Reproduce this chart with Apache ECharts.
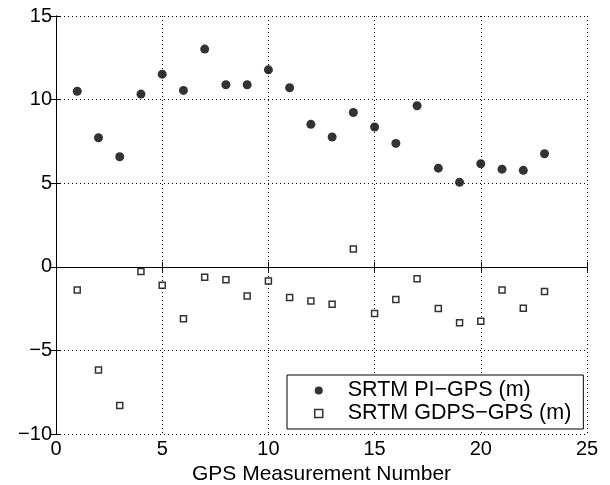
<!DOCTYPE html>
<html><head><meta charset="utf-8">
<script src="https://cdn.jsdelivr.net/npm/echarts@6/dist/echarts.min.js"></script>
<style>html,body{margin:0;padding:0;background:#fff}#c{width:610px;height:485px}</style>
</head><body><div id="c"></div>
<script>
const measurementNumbers = [1,2,3,4,5,6,7,8,9,10,11,12,13,14,15,16,17,18,19,20,21,22,23];
const srtmPiGps = [10.5,7.72,6.58,10.33,11.52,10.55,13.02,10.89,10.89,11.78,10.71,8.52,7.76,9.23,8.36,7.38,9.63,5.9,5.05,6.16,5.84,5.77,6.76];
const srtmGdpsGps = [-1.39,-6.17,-8.29,-0.28,-1.11,-3.10,-0.63,-0.77,-1.75,-0.85,-1.83,-2.04,-2.24,1.07,-2.80,-1.96,-0.71,-2.5,-3.35,-3.25,-1.39,-2.48,-1.47];
const xTicks = [0,5,10,15,20,25];
const yTicks = [-10,-5,0,5,10,15];
const seriesNames = ['SRTM PI\u2212GPS (m)','SRTM GDPS\u2212GPS (m)'];
const xName = 'GPS Measurement Number';

const font = 'Liberation Sans, Arial, Helvetica, sans-serif';
const chart = echarts.init(document.getElementById('c'));
const axisLine = {show:true, lineStyle:{color:'#000', width:1}};
const tick = {show:true, inside:true, length:5, lineStyle:{color:'#000'}};
const split = {show:true, lineStyle:{color:'#000', type:[1,3], width:1}};
const fmt = v => String(v).replace('-', '\u2212');
chart.setOption({
  animation:false,
  backgroundColor:'#fff',
  grid:{left:56, right:23, top:16, bottom:51, containLabel:false, outerBoundsMode:'none'},
  xAxis:[
    {type:'value', min:xTicks[0], max:xTicks[xTicks.length-1], interval:5, position:'bottom',
     name:xName, nameLocation:'middle', nameGap:22, nameTextStyle:{fontFamily:font, fontSize:21, color:'#000'},
     axisLine, axisTick:tick, splitLine:split,
     axisLabel:{fontFamily:font, fontSize:20, color:'#000', margin:5, formatter:fmt}},
    {type:'value', min:xTicks[0], max:xTicks[xTicks.length-1], interval:5, position:'top',
     axisLine, axisTick:tick, splitLine:{show:false}, axisLabel:{show:false}}
  ],
  yAxis:[
    {type:'value', min:yTicks[0], max:yTicks[yTicks.length-1], interval:5, position:'left',
     axisLine, axisTick:tick, splitLine:split,
     axisLabel:{fontFamily:font, fontSize:20, color:'#000', margin:4, formatter:fmt}},
    {type:'value', min:yTicks[0], max:yTicks[yTicks.length-1], interval:5, position:'right',
     axisLine, axisTick:tick, splitLine:{show:false}, axisLabel:{show:false}}
  ],
  legend:{
    left:287, top:375, orient:'vertical',
    backgroundColor:'#fff', borderColor:'#000', borderWidth:1,
    padding:[4,12,4,27], itemGap:0, itemWidth:8, itemHeight:8,
    textStyle:{fontFamily:font, fontSize:21.5, lineHeight:23, color:'#000', padding:[0,0,0,20]},
    data:[{name:seriesNames[0], icon:'circle'},{name:seriesNames[1], icon:'rect', itemStyle:{color:'#fff', borderColor:'#000', borderWidth:1.5}}]
  },
  series:[
    {name:seriesNames[0], type:'scatter', symbol:'circle', symbolSize:9,
     itemStyle:{color:'#000'},
     data:measurementNumbers.map((x,i)=>[x,srtmPiGps[i]])},
    {name:seriesNames[1], type:'scatter', symbol:'rect', symbolSize:6,
     itemStyle:{color:'#fff', borderColor:'#000', borderWidth:1.5},
     data:measurementNumbers.map((x,i)=>[x,srtmGdpsGps[i]])}
  ]
});
</script></body></html>
